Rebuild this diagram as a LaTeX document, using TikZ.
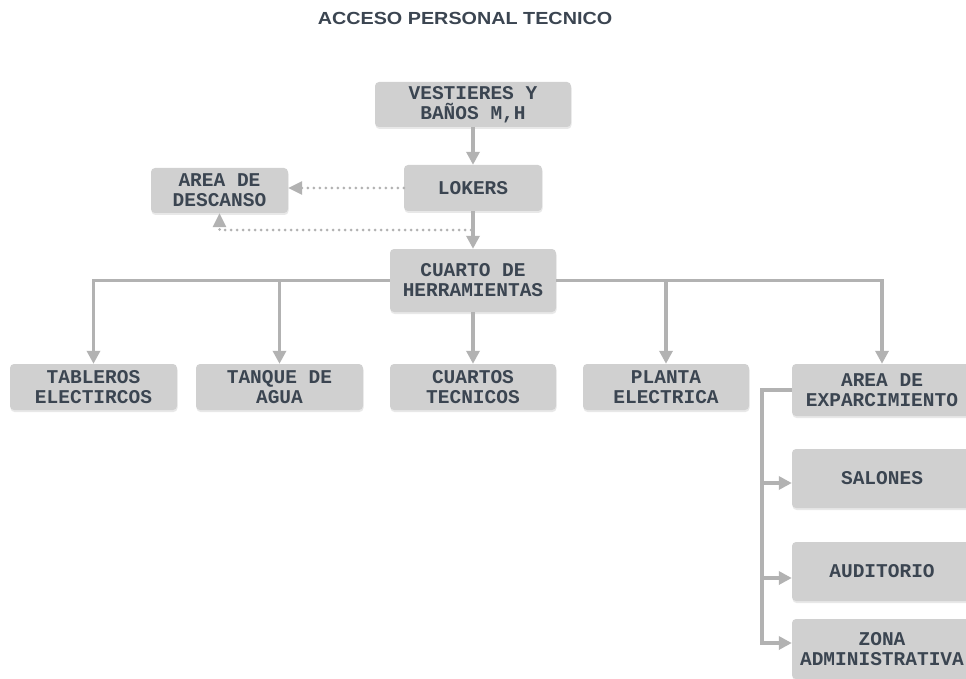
\documentclass[tikz,border=0pt]{standalone}
\usepackage{fontspec}
\setmainfont{Liberation Sans}
\setmonofont{Liberation Mono}
\usetikzlibrary{arrows.meta,shadows,calc}
\definecolor{boxgray}{HTML}{D0D0D0}
\definecolor{txt}{HTML}{3B4551}
\definecolor{linec}{HTML}{B2B2B2}
\tikzset{
  box/.style={rectangle, rounded corners=4pt, fill=boxgray, text=txt, align=center,
    inner sep=0pt, font=\ttfamily\bfseries\fontsize{19.5}{20}\selectfont,
    drop shadow={opacity=0.18, shadow xshift=0.5pt, shadow yshift=-2pt}},
  arr/.style={draw=linec, line width=3.3pt, -{Triangle[length=13pt,width=13pt]}},
  dotarr/.style={draw=linec, line width=3pt, line cap=round, dash pattern=on 0pt off 6pt,
    -{Triangle[length=14pt,width=13pt]}},
}
\begin{document}
\begin{tikzpicture}[x=1pt,y=-1pt]
\path[use as bounding box, clip] (0,0) rectangle (966,679);
\fill[white] (0,0) rectangle (966,679);
\node[text=txt, font=\bfseries\fontsize{17.5}{20}\selectfont] (title) at (465,18.5)
  {\scalebox{1.13}[1]{ACCESO PERSONAL TECNICO}};

\node[box, minimum width=196pt, minimum height=45pt] (vest) at (473,104.5) {VESTIERES Y\\BAÑOS M,H};
\node[box, minimum width=138pt, minimum height=46pt] (lok) at (473,188) {LOKERS};
\node[box, minimum width=137pt, minimum height=45pt] (desc) at (219.5,190.5) {AREA DE\\DESCANSO};
\node[box, minimum width=166pt, minimum height=63pt] (herr) at (473,280.5) {CUARTO DE\\HERRAMIENTAS};

\node[box, minimum width=167pt, minimum height=46pt] (tab) at (93.5,387) {TABLEROS\\ELECTIRCOS};
\node[box, minimum width=167pt, minimum height=46pt] (tan) at (279.5,387) {TANQUE DE\\AGUA};
\node[box, minimum width=166pt, minimum height=46pt] (cua) at (473,387) {CUARTOS\\TECNICOS};
\node[box, minimum width=166pt, minimum height=46pt] (pla) at (666,387) {PLANTA\\ELECTRICA};
\node[box, minimum width=180pt, minimum height=52pt] (exp) at (882,390) {AREA DE\\EXPARCIMIENTO};

\node[box, minimum width=180pt, minimum height=59pt] (sal) at (882,478.5) {SALONES};
\node[box, minimum width=180pt, minimum height=59pt] (aud) at (882,571.5) {AUDITORIO};
\node[box, minimum width=180pt, minimum height=60pt] (zon) at (882,649) {ZONA\\ADMINISTRATIVA};

% main spine
\draw[arr] (vest.south) -- (lok.north);
\draw[arr] (lok.south) -- (herr.north);

% dotted connectors to rest area
\draw[dotarr] (lok.west) -- (lok.west -| desc.east);
\coordinate (j) at (471,230);
\draw[dotarr] (j) -| (desc.south);

% branches from tool room
\draw[arr] (herr.west) -| (tab.north);
\draw[arr] (herr.west) -| (tan.north);
\draw[arr] (herr.south) -- (cua.north);
\draw[arr] (herr.east) -| (pla.north);
\draw[arr] (herr.east) -| (exp.north);

% right column
\coordinate (bus) at (762,390);
\draw[arr] (exp.west) -- (bus) |- ([yshift=-4.5pt]sal.west);
\draw[arr] (bus) |- ([yshift=-6.5pt]aud.west);
\draw[arr] (bus) |- ([yshift=6pt]zon.west);
\end{tikzpicture}
\end{document}
